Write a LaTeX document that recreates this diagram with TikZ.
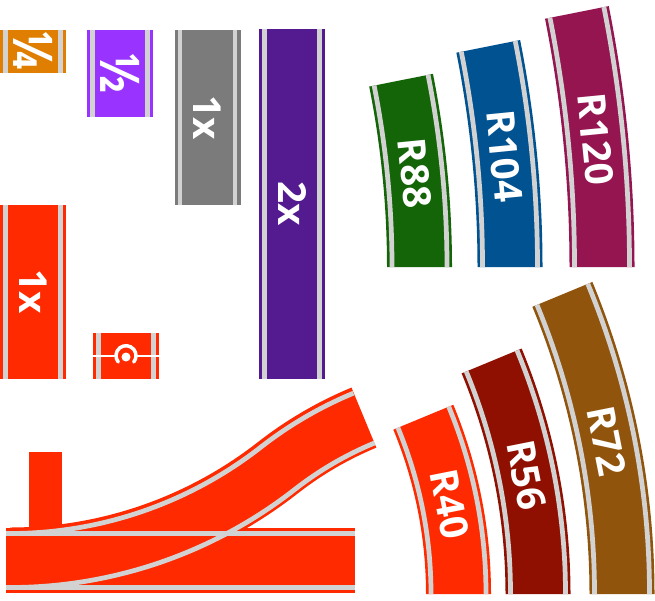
\documentclass[tikz,border=0pt]{standalone}
\usepackage{fontspec}
\setmainfont{Open Sans}
\usepackage{graphicx}
\usepackage{tikz}

\definecolor{quartercol}{HTML}{DF7E00}
\definecolor{halfcol}{HTML}{9933FF}
\definecolor{singlecol}{HTML}{7B7B7B}
\definecolor{doublecol}{HTML}{541A8F}
\definecolor{basiccol}{HTML}{FF2A00}
\definecolor{reightyeightcol}{HTML}{146408}
\definecolor{ronefourcol}{HTML}{005291}
\definecolor{rtwentycol}{HTML}{941550}
\definecolor{rfiftysixcol}{HTML}{8F1000}
\definecolor{rseventycol}{HTML}{90540D}
\definecolor{railgray}{HTML}{D2D2D2}

\tikzset{
  rail/.style={draw=railgray, line width=0.095cm},
  tracklabel/.style={text=white, inner sep=0pt, text height=0.55cm, text depth=0pt, font=\fontsize{22}{22}\selectfont\bfseries},
  dot/.style={circle, fill=white, inner sep=0pt, minimum size=0.18cm}
}

\newcommand{\bigfrac}[1]{\raisebox{-0.115cm}[0pt][0pt]{\scalebox{1}[1.2]{\fontsize{26}{26}\selectfont #1}}}

% left x, bottom y, height, colour, label, name
\newcommand{\straighttrack}[6]{
  \fill[#4] (#1,#2) rectangle ++(66,#3);
  \draw[rail] (#1+5.5,#2) -- ++(0,#3);
  \draw[rail] (#1+60.5,#2) -- ++(0,#3);
  \node[tracklabel, rotate=-90] (#6) at (#1+33,#2+#3/2) {#5};
}

% middle x, bottom y, radius, angle, colour, label, name
\newcommand{\curvetrack}[7]{
  \begin{scope}[shift={(#1-#3,#2)}]
    \fill[#5] (0:#3+32.5) arc[start angle=0, end angle=#4, radius=#3+32.5]
      -- (#4:#3-32.5) arc[start angle=#4, end angle=0, radius=#3-32.5] -- cycle;
    \draw[rail] (0:#3+27.5) arc[start angle=0, end angle=#4, radius=#3+27.5];
    \draw[rail] (0:#3-27.5) arc[start angle=0, end angle=#4, radius=#3-27.5];
    \node[tracklabel, rotate=#4/2-90] (#7) at (#4/2:#3) {#6};
  \end{scope}
}

\begin{document}
\begin{tikzpicture}[x=0.02cm, y=0.02cm]
  \useasboundingbox (0,0) rectangle (655,600);

  % straight pieces
  \straighttrack{0}{527}{43}{quartercol}{\bigfrac{¼}}{quarterpiece}
  \straighttrack{87}{483}{87}{halfcol}{\bigfrac{½}}{halfpiece}
  \straighttrack{174.5}{395}{175}{singlecol}{1x}{singlepiece}
  \straighttrack{259}{221}{350}{doublecol}{2x}{doublepiece}
  \straighttrack{0}{221}{174}{basiccol}{1x}{basicpiece}

  % contact piece
  \fill[basiccol] (93,221) rectangle ++(66,46);
  \draw[rail] (98.5,221) -- ++(0,46);
  \draw[rail] (153.5,221) -- ++(0,46);
  \node[dot] (contact) at (126,243) {};
  \coordinate (contactl) at (93,244.3);
  \coordinate (contactr) at (159,244.3);
  \coordinate (ringmid) at (126,244.3);
  \draw[white, line width=0.04cm] (contactl) -- +(22,0);
  \draw[white, line width=0.04cm] (contactr) -- +(-22,0);
  \draw[white, line width=0.07cm, line cap=round] (ringmid) ++(219:10) arc[start angle=219, end angle=-39, radius=10];

  % curves, small angle
  \curvetrack{419.5}{333}{957.5}{11.25}{reightyeightcol}{R88}{reightyeight}
  \curvetrack{510}{333}{1131}{11.25}{ronefourcol}{R104}{ronefour}
  \curvetrack{602}{333}{1305}{11.25}{rtwentycol}{R120}{rtwenty}

  % curves, large angle
  \curvetrack{458.5}{6}{462}{22.5}{basiccol}{R40}{rforty}
  \curvetrack{538}{6}{609}{22.5}{rfiftysixcol}{R56}{rfifty}
  \curvetrack{622}{6}{783}{22.5}{rseventycol}{R72}{rseventytwo}

  % turnout
  \fill[basiccol] (29,72) rectangle (61.5,148);
  \fill[basiccol] (10,7.5) arc[start angle=-90, delta angle=38, radius=467.5]
    arc[start angle=128, delta angle=-15.5, radius=337]
    -- ++(112.5:65) arc[start angle=112.5, delta angle=15.5, radius=402]
    arc[start angle=-52, delta angle=-38, radius=402.5] -- cycle;
  \fill[basiccol] (6,7.5) rectangle (355,72);
  \draw[rail] (6,12.5) -- (355,12.5);
  \draw[rail] (6,66.5) -- (355,66.5);
  \draw[rail] (10,66.5) arc[start angle=-90, delta angle=38, radius=407.5]
    arc[start angle=128, delta angle=-15.5, radius=397];
  \draw[rail] (10,12.5) arc[start angle=-90, delta angle=38, radius=462.5]
    arc[start angle=128, delta angle=-15.5, radius=342];
\end{tikzpicture}
\end{document}
